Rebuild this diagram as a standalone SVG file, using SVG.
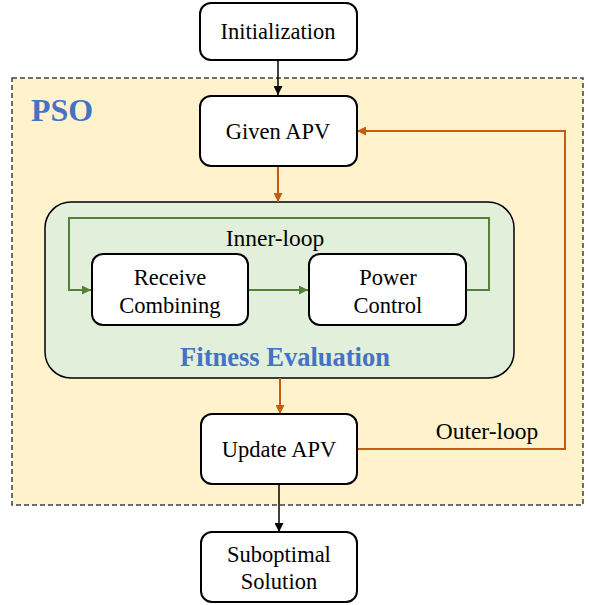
<svg xmlns="http://www.w3.org/2000/svg" width="590" height="605" viewBox="0 0 590 605">
  <style>
    .node { fill: #ffffff; stroke: #000000; stroke-width: 2; }
    .lbl { font-family: "Liberation Serif", "Times New Roman", serif; font-size: 22.5px; fill: #000000; text-anchor: middle; }
    .loop { font-size: 23.5px; }
    .title { font-family: "Liberation Serif", "Times New Roman", serif; font-weight: bold; fill: #4472C4; }
    .blk { fill: none; stroke: #000000; stroke-width: 1.5; }
    .org { fill: none; stroke: #C55A11; stroke-width: 2; }
    .grn { fill: none; stroke: #548235; stroke-width: 2; }
  </style>
  <defs>
    <marker id="ahBlack" viewBox="0 0 10 10" refX="10" refY="5" markerWidth="9" markerHeight="9" markerUnits="userSpaceOnUse" orient="auto">
      <path d="M0,0 L10,5 L0,10 Z" fill="#000000"/>
    </marker>
    <marker id="ahOrange" viewBox="0 0 10 10" refX="10" refY="5" markerWidth="9" markerHeight="9" markerUnits="userSpaceOnUse" orient="auto">
      <path d="M0,0 L10,5 L0,10 Z" fill="#C55A11"/>
    </marker>
    <marker id="ahGreen" viewBox="0 0 10 10" refX="10" refY="5" markerWidth="9" markerHeight="9" markerUnits="userSpaceOnUse" orient="auto">
      <path d="M0,0 L10,5 L0,10 Z" fill="#548235"/>
    </marker>
  </defs>

  <!-- PSO region -->
  <g id="pso">
    <rect x="12" y="78" width="571" height="427" fill="#FFF2CC" stroke="#404040" stroke-width="1.5" stroke-dasharray="5,3"/>
    <text class="title" x="31" y="121" font-size="32">PSO</text>
  </g>

  <!-- Fitness evaluation region -->
  <g id="fitness">
    <rect x="45" y="202" width="469" height="176" rx="26" fill="#E2EFDA" stroke="#000000" stroke-width="1.5"/>
    <text class="title" x="285" y="366" font-size="26.5" text-anchor="middle">Fitness Evaluation</text>
  </g>

  <!-- Connectors -->
  <g id="connectors">
    <line class="blk" x1="278" y1="60" x2="278" y2="95" marker-end="url(#ahBlack)"/>
    <line class="org" x1="278" y1="166" x2="278" y2="202" marker-end="url(#ahOrange)"/>
    <line class="org" x1="280" y1="378" x2="280" y2="414" marker-end="url(#ahOrange)"/>
    <line class="blk" x1="279" y1="484" x2="279" y2="532" marker-end="url(#ahBlack)"/>
    <polyline class="org" points="357,449 565,449 565,131 357,131" marker-end="url(#ahOrange)"/>
    <line class="grn" x1="248" y1="290" x2="308" y2="290" marker-end="url(#ahGreen)"/>
    <polyline class="grn" points="466,290 489,290 489,218 69,218 69,290 91,290" marker-end="url(#ahGreen)"/>
    <text class="lbl loop" x="275" y="246">Inner-loop</text>
    <text class="lbl loop" x="487" y="439">Outer-loop</text>
  </g>

  <g id="initialization">
    <rect class="node" x="200" y="3" width="157" height="57" rx="11"/>
    <text class="lbl" x="278" y="39">Initialization</text>
  </g>

  <g id="given-apv">
    <rect class="node" x="200" y="96" width="157" height="70" rx="11"/>
    <text class="lbl" x="278" y="139">Given APV</text>
  </g>

  <g id="receive-combining">
    <rect class="node" x="92" y="254" width="156" height="71" rx="11"/>
    <text class="lbl" x="170" y="285">Receive</text>
    <text class="lbl" x="170" y="313">Combining</text>
  </g>

  <g id="power-control">
    <rect class="node" x="309" y="254" width="157" height="71" rx="11"/>
    <text class="lbl" x="388" y="285">Power</text>
    <text class="lbl" x="388" y="313">Control</text>
  </g>

  <g id="update-apv">
    <rect class="node" x="201" y="414" width="156" height="70" rx="11"/>
    <text class="lbl" x="279" y="457">Update APV</text>
  </g>

  <g id="suboptimal-solution">
    <rect class="node" x="201" y="532" width="156" height="70" rx="11"/>
    <text class="lbl" x="279" y="562">Suboptimal</text>
    <text class="lbl" x="279" y="589">Solution</text>
  </g>
</svg>
